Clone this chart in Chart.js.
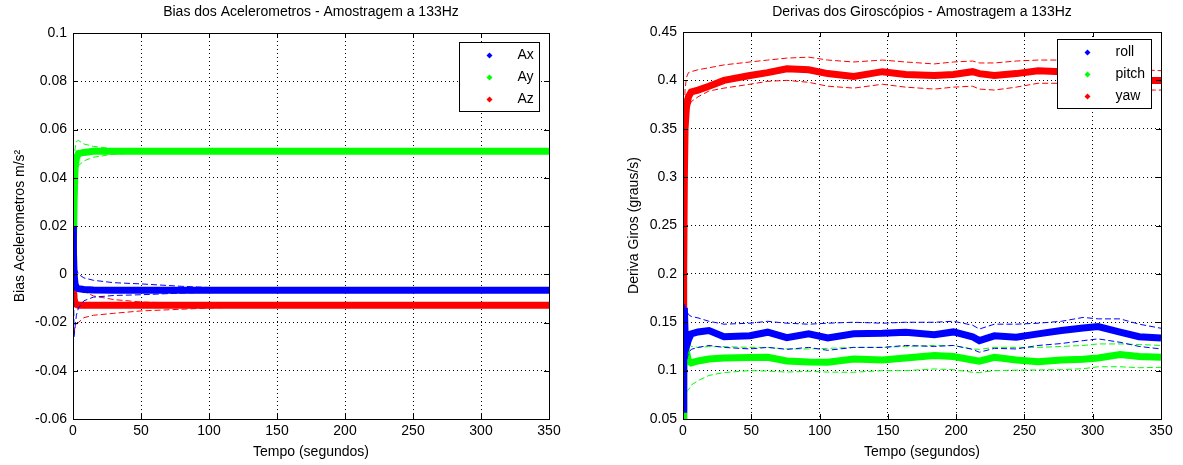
<!DOCTYPE html>
<html>
<head>
<meta charset="utf-8">
<script src="https://cdn.jsdelivr.net/npm/chart.js@4"></script>
<style>
  html, body { margin: 0; padding: 0; background: #fff; }
  canvas { position: absolute; top: 0; }
  #graficoAcel { left: 0; }
  #graficoGiro { left: 600px; }
</style>
</head>
<body>
<canvas id="graficoAcel" width="600" height="465"></canvas>
<canvas id="graficoGiro" width="583" height="465"></canvas>
<script>
// --- Acelerometros (tempo em segundos) ---
const tAcel = [0, 0.3, 0.8, 1.5, 2.5, 4, 8, 15, 30, 50, 80, 100, 130, 200, 350];
const ax   = [0.02, 0.01, 0.0, -0.004, -0.0055, -0.006, -0.0063, -0.0065, -0.0066, -0.0066, -0.0066, -0.0066, -0.0066, -0.0066, -0.0066];
const axHi = [0.025, 0.02, 0.012, 0.006, 0.002, 0.0, -0.0015, -0.0025, -0.0035, -0.004, -0.005, -0.0055, -0.006, -0.0066, -0.0066];
const axLo = [0.015, 0.0, -0.026, -0.022, -0.017, -0.014, -0.011, -0.0095, -0.0088, -0.0085, -0.0078, -0.0075, -0.0071, -0.0066, -0.0066];
const ay   = [-0.005, 0.012, 0.03, 0.044, 0.048, 0.050, 0.0505, 0.051, 0.051, 0.051, 0.051, 0.051, 0.051, 0.051, 0.051];
const ayHi = [0.01, 0.03, 0.045, 0.052, 0.055, 0.0555, 0.054, 0.053, 0.052, 0.0515, 0.0512, 0.0511, 0.0511, 0.051, 0.051];
const ayLo = [-0.015, 0.0, 0.02, 0.035, 0.042, 0.045, 0.047, 0.0485, 0.0498, 0.0503, 0.0507, 0.0508, 0.051, 0.051, 0.051];
const az   = [0.022, -0.005, -0.01, -0.012, -0.0125, -0.0128, -0.0128, -0.0128, -0.0128, -0.0128, -0.0128, -0.0128, -0.0128, -0.0128, -0.0128];
const azHi = [0.025, 0.0, -0.004, -0.005, -0.005, -0.0055, -0.007, -0.009, -0.0105, -0.0115, -0.012, -0.0123, -0.0125, -0.0128, -0.0128];
const azLo = [-0.028, -0.026, -0.024, -0.022, -0.021, -0.02, -0.018, -0.017, -0.0162, -0.0152, -0.0145, -0.014, -0.0135, -0.0128, -0.0128];

// --- Giroscopios ---
const tGiro = [0, 0.5, 1, 1.5, 2.5, 4, 6, 11, 19, 30, 49, 62, 76, 92, 106, 125, 146, 163, 184, 198, 212, 217, 228, 244, 260, 277, 293, 304, 320, 334, 350];
const roll    = [0.06, 0.12, 0.165, 0.14, 0.125, 0.132, 0.138, 0.140, 0.1414, 0.135, 0.136, 0.1397, 0.134, 0.138, 0.1338, 0.138, 0.1386, 0.1397, 0.137, 0.140, 0.135, 0.131, 0.136, 0.1345, 0.138, 0.1414, 0.144, 0.1455, 0.1397, 0.135, 0.1338];
const rollHi  = [0.06, 0.13, 0.17, 0.165, 0.162, 0.158, 0.156, 0.1545, 0.151, 0.148, 0.149, 0.151, 0.149, 0.148, 0.149, 0.150, 0.149, 0.150, 0.150, 0.151, 0.147, 0.143, 0.148, 0.148, 0.149, 0.151, 0.155, 0.1535, 0.1535, 0.148, 0.1438];
const rollLo  = [0.06, 0.11, 0.14, 0.12, 0.11, 0.118, 0.122, 0.124, 0.126, 0.124, 0.1224, 0.124, 0.122, 0.124, 0.121, 0.124, 0.124, 0.126, 0.125, 0.126, 0.122, 0.119, 0.123, 0.1224, 0.126, 0.128, 0.131, 0.1328, 0.1293, 0.125, 0.1224];
const pitch   = [0.05, 0.10, 0.12, 0.14, 0.12, 0.11, 0.108, 0.110, 0.112, 0.113, 0.1135, 0.1138, 0.110, 0.109, 0.1086, 0.112, 0.111, 0.113, 0.1155, 0.1145, 0.111, 0.1097, 0.1138, 0.111, 0.1093, 0.111, 0.1117, 0.113, 0.1166, 0.1145, 0.1138];
const pitchHi = [0.05, 0.12, 0.14, 0.145, 0.138, 0.13, 0.125, 0.124, 0.1248, 0.1248, 0.124, 0.124, 0.1224, 0.1224, 0.123, 0.124, 0.124, 0.125, 0.126, 0.126, 0.1224, 0.122, 0.124, 0.124, 0.124, 0.125, 0.126, 0.1276, 0.1276, 0.127, 0.126];
const pitchLo = [0.05, 0.06, 0.07, 0.075, 0.078, 0.08, 0.085, 0.0897, 0.095, 0.098, 0.100, 0.0995, 0.0985, 0.0993, 0.0985, 0.0983, 0.100, 0.100, 0.1017, 0.101, 0.0983, 0.098, 0.100, 0.1005, 0.1007, 0.101, 0.102, 0.104, 0.104, 0.103, 0.1034];
const yaw     = [0.05, 0.2, 0.3, 0.35, 0.372, 0.383, 0.388, 0.390, 0.394, 0.400, 0.405, 0.408, 0.412, 0.411, 0.407, 0.404, 0.409, 0.406, 0.405, 0.406, 0.409, 0.407, 0.405, 0.407, 0.410, 0.409, 0.408, 0.405, 0.401, 0.400, 0.400];
const yawHi   = [0.05, 0.25, 0.36, 0.39, 0.403, 0.408, 0.409, 0.411, 0.413, 0.416, 0.419, 0.421, 0.423, 0.424, 0.421, 0.419, 0.421, 0.419, 0.417, 0.419, 0.420, 0.418, 0.418, 0.420, 0.421, 0.421, 0.419, 0.416, 0.413, 0.411, 0.410];
const yawLo   = [0.05, 0.15, 0.25, 0.30, 0.34, 0.37, 0.378, 0.383, 0.389, 0.392, 0.396, 0.399, 0.400, 0.398, 0.394, 0.392, 0.396, 0.393, 0.391, 0.393, 0.394, 0.391, 0.390, 0.393, 0.397, 0.397, 0.396, 0.394, 0.391, 0.390, 0.390];

const ticksTempo = [0, 50, 100, 150, 200, 250, 300, 350];

const FONTE = "'Liberation Sans', Arial, sans-serif";
Chart.defaults.font.family = FONTE;
Chart.defaults.font.size = 14;
Chart.defaults.color = '#000';

function pontos(t, y) {
    return t.map((x, i) => ({ x: x, y: y[i] }));
}

// serie principal (grossa) + limites tracejados
function serie(label, cor, t, y, hi, lo) {
    return [
        { label: label, data: pontos(t, y), borderColor: cor, borderWidth: 7, pointRadius: 0, tension: 0 },
        { label: '', noLegend: true, data: pontos(t, hi), borderColor: cor, borderWidth: 1, borderDash: [6, 3], pointRadius: 0, tension: 0 },
        { label: '', noLegend: true, data: pontos(t, lo), borderColor: cor, borderWidth: 1, borderDash: [6, 3], pointRadius: 0, tension: 0 }
    ];
}

// moldura, marcas internas e legenda no estilo MATLAB
const estiloMatlab = {
    id: 'estiloMatlab',
    afterDatasetsDraw(chart) {
        const { ctx, chartArea: a, scales } = chart;
        ctx.save();
        ctx.strokeStyle = '#000';
        ctx.lineWidth = 1;
        ctx.beginPath();
        scales.x.ticks.forEach(tk => {
            const px = Math.round(scales.x.getPixelForValue(tk.value)) + 0.5;
            ctx.moveTo(px, a.bottom); ctx.lineTo(px, a.bottom - 5);
            ctx.moveTo(px, a.top); ctx.lineTo(px, a.top + 5);
        });
        scales.y.ticks.forEach(tk => {
            const py = Math.round(scales.y.getPixelForValue(tk.value)) + 0.5;
            ctx.moveTo(a.left, py); ctx.lineTo(a.left + 5, py);
            ctx.moveTo(a.right, py); ctx.lineTo(a.right - 5, py);
        });
        ctx.stroke();
        ctx.strokeRect(Math.round(a.left) + 0.5, Math.round(a.top) + 0.5, Math.round(a.right - a.left), Math.round(a.bottom - a.top));
        ctx.restore();
    },
    afterDraw(chart, args, opts) {
        const { ctx, chartArea: a } = chart;
        const itens = chart.data.datasets.filter(d => !d.noLegend);
        ctx.save();
        ctx.font = '14px ' + FONTE;
        const maxW = Math.max(...itens.map(d => ctx.measureText(d.label).width));
        const w = Math.round(58 + maxW + 6);
        const h = 69;
        const x0 = Math.round(a.right - 10 - w) + 0.5;
        const y0 = Math.round(a.top + opts.top) + 0.5;
        ctx.fillStyle = '#fff';
        ctx.fillRect(x0, y0, w, h);
        ctx.strokeStyle = '#000';
        ctx.lineWidth = 1;
        ctx.strokeRect(x0, y0, w, h);
        ctx.textBaseline = 'middle';
        itens.forEach((d, i) => {
            const cy = y0 + 13 + i * 22;
            ctx.fillStyle = d.borderColor;
            ctx.beginPath();
            ctx.moveTo(x0 + 30, cy - 3); ctx.lineTo(x0 + 33, cy); ctx.lineTo(x0 + 30, cy + 3); ctx.lineTo(x0 + 27, cy);
            ctx.closePath();
            ctx.fill();
            ctx.fillStyle = '#000';
            ctx.fillText(d.label, x0 + 58, cy);
        });
        ctx.restore();
    }
};

function criarGrafico(id, cfg) {
    const ctx = document.getElementById(id).getContext('2d');
    return new Chart(ctx, {
        type: 'line',
        data: { datasets: cfg.datasets },
        plugins: [estiloMatlab],
        options: {
            responsive: false,
            animation: false,
            layout: { padding: { left: 0, right: cfg.padRight, top: 0, bottom: 0 } },
            plugins: {
                legend: { display: false },
                tooltip: { enabled: false },
                title: {
                    display: true,
                    text: cfg.titulo,
                    fullSize: false,
                    font: { size: 14, weight: 'normal' },
                    padding: { top: 4, bottom: cfg.topo - 4 - 16.8 }
                },
                estiloMatlab: { top: cfg.legTop }
            },
            scales: {
                x: {
                    type: 'linear',
                    min: 0,
                    max: 350,
                    afterBuildTicks: s => { s.ticks = ticksTempo.map(v => ({ value: v })); },
                    afterFit: s => { s.height = 46; s.paddingLeft = 0; s.paddingRight = 0; },
                    ticks: { padding: 4, maxRotation: 0, autoSkip: false },
                    grid: { color: '#000', drawTicks: false },
                    border: { display: false, dash: [1, 3] },
                    title: { display: true, text: 'Tempo (segundos)', padding: { top: 0, bottom: 4 } }
                },
                y: {
                    min: cfg.yMin,
                    max: cfg.yMax,
                    afterBuildTicks: s => { s.ticks = cfg.yTicks.map(v => ({ value: v })); },
                    afterFit: s => { s.width = cfg.yLargura; s.paddingTop = 0; s.paddingBottom = 0; },
                    ticks: { padding: 6, callback: v => String(Number(v.toFixed(3))) },
                    grid: { color: '#000', drawTicks: false },
                    border: { display: false, dash: [1, 3] },
                    title: { display: true, text: cfg.yTitulo, padding: { top: cfg.yTituloPad, bottom: 0 } }
                }
            }
        }
    });
}

criarGrafico('graficoAcel', {
    titulo: 'Bias dos Acelerometros - Amostragem a 133Hz',
    yTitulo: 'Bias Acelerometros m/s²',
    datasets: [].concat(
        serie('Ax', '#0000ff', tAcel, ax, axHi, axLo),
        serie('Ay', '#00ff00', tAcel, ay, ayHi, ayLo),
        serie('Az', '#ff0000', tAcel, az, azHi, azLo)
    ),
    yMin: -0.06, yMax: 0.1,
    yTicks: [-0.06, -0.04, -0.02, 0, 0.02, 0.04, 0.06, 0.08, 0.1],
    yLargura: 73, yTituloPad: 12, padRight: 51, topo: 33, legTop: 9
});

criarGrafico('graficoGiro', {
    titulo: 'Derivas dos Giroscópios - Amostragem a 133Hz',
    yTitulo: 'Deriva Giros (graus/s)',
    datasets: [].concat(
        serie('roll', '#0000ff', tGiro, roll, rollHi, rollLo),
        serie('pitch', '#00ff00', tGiro, pitch, pitchHi, pitchLo),
        serie('yaw', '#ff0000', tGiro, yaw, yawHi, yawLo)
    ),
    yMin: 0.05, yMax: 0.45,
    yTicks: [0.05, 0.1, 0.15, 0.2, 0.25, 0.3, 0.35, 0.4, 0.45],
    yLargura: 83, yTituloPad: 26, padRight: 22, topo: 32, legTop: 7
});
</script>
</body>
</html>
